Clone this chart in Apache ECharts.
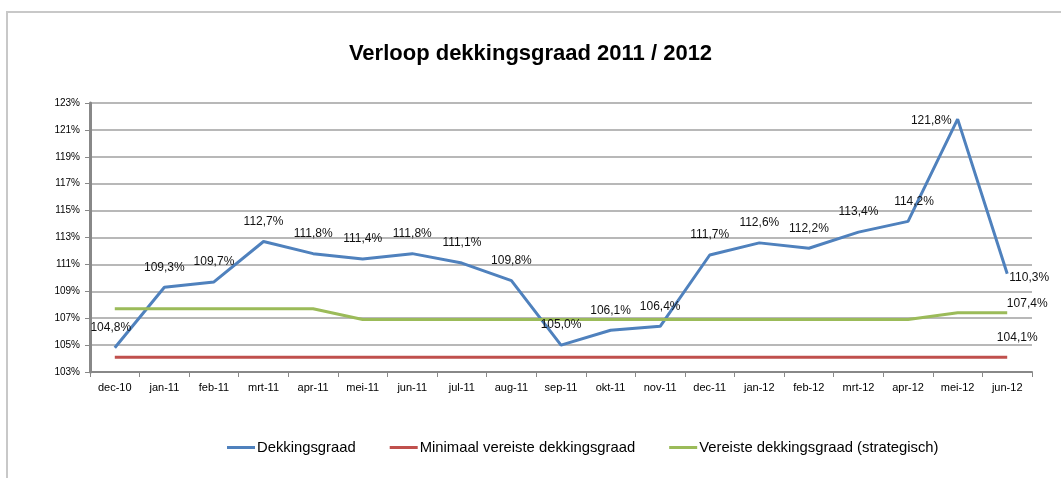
<!DOCTYPE html>
<html>
<head>
<meta charset="utf-8">
<script src="https://cdn.jsdelivr.net/npm/echarts@6/dist/echarts.min.js"></script>
<style>
  html, body { margin: 0; padding: 0; background: #fff; }
  #chart { width: 1061px; height: 478px; }
</style>
</head>
<body>
<div id="chart"></div>
<script>
const months = ['dec-10', 'jan-11', 'feb-11', 'mrt-11', 'apr-11', 'mei-11', 'jun-11', 'jul-11', 'aug-11', 'sep-11',
  'okt-11', 'nov-11', 'dec-11', 'jan-12', 'feb-12', 'mrt-12', 'apr-12', 'mei-12', 'jun-12'];
const dekkingsgraad = [104.8, 109.3, 109.7, 112.7, 111.8, 111.4, 111.8, 111.1, 109.8, 105.0,
  106.1, 106.4, 111.7, 112.6, 112.2, 113.4, 114.2, 121.8, 110.3];
const minimaal = [104.1, 104.1, 104.1, 104.1, 104.1, 104.1, 104.1, 104.1, 104.1, 104.1,
  104.1, 104.1, 104.1, 104.1, 104.1, 104.1, 104.1, 104.1, 104.1];
const strategisch = [107.7, 107.7, 107.7, 107.7, 107.7, 106.9, 106.9, 106.9, 106.9, 106.9,
  106.9, 106.9, 106.9, 106.9, 106.9, 106.9, 106.9, 107.4, 107.4];

const fmt = v => v.toFixed(1).replace('.', ',') + '%';
const font = '"Liberation Sans", Arial, sans-serif';

let myChart = echarts.init(document.getElementById('chart'));

// blue labels: mostly above, a few moved
let blueData = dekkingsgraad.map((v, i) => {
  let item = { value: v };
  if (i === 17) item.label = { position: 'left', distance: 6, offset: [0, 2] };
  if (i === 18) item.label = { position: 'right', distance: 2, offset: [0, 4] };
  if (i === 16) item.label = { offset: [6, 0] };
  if (i === 0) item.label = { offset: [-4, 0] };
  return item;
});

let lastOnly = (arr, offset) => arr.map((v, i) => i === arr.length - 1
  ? { value: v, label: { show: true, position: 'top', offset: offset, formatter: p => fmt(p.value) } }
  : v);

let option = {
  animation: false,
  textStyle: { fontFamily: font },
  title: {
    text: 'Verloop dekkingsgraad 2011 / 2012',
    left: 'center',
    top: 38,
    textStyle: { fontSize: 22, fontWeight: 'bold', color: '#000', fontFamily: font }
  },
  graphic: [{
    type: 'rect',
    shape: { x: 7, y: 12, width: 1070, height: 480 },
    style: { fill: 'none', stroke: '#c8c8c8', lineWidth: 2 }
  }],
  legend: {
    bottom: 18,
    left: 222,
    itemGap: 34,
    itemWidth: 28,
    itemHeight: 3,
    icon: 'rect',
    textStyle: { fontSize: 14.8, color: '#000', fontFamily: font, padding: [0, 0, 0, -3] }
  },
  grid: { left: 90, right: 29, top: 103, bottom: 106 },
  xAxis: {
    type: 'category',
    data: months,
    boundaryGap: true,
    axisLine: { lineStyle: { color: '#888', width: 2 } },
    axisTick: { show: true, length: 5, lineStyle: { color: '#888' } },
    axisLabel: { fontSize: 11, color: '#000', margin: 10 }
  },
  yAxis: {
    type: 'value',
    min: 103,
    max: 123,
    interval: 2,
    axisLine: { show: true, lineStyle: { color: '#888', width: 3 } },
    axisTick: { show: true, length: 5, lineStyle: { color: '#888' } },
    axisLabel: { fontSize: 10, color: '#000', margin: 10, formatter: v => v + '%' },
    splitLine: { lineStyle: { color: '#a0a0a0', width: 1.5 } }
  },
  series: [
    {
      name: 'Dekkingsgraad',
      type: 'line',
      data: blueData,
      symbol: 'circle',
      symbolSize: 0.1,
      showSymbol: true,
      color: '#4F81BD',
      lineStyle: { width: 3 },
      label: { show: true, position: 'top', distance: 14, fontSize: 12, color: '#111', formatter: p => fmt(p.value) },
      z: 3
    },
    {
      name: 'Minimaal vereiste dekkingsgraad',
      type: 'line',
      data: lastOnly(minimaal, [10, -8]),
      symbol: 'circle',
      symbolSize: 0.1,
      showSymbol: true,
      color: '#C0504D',
      lineStyle: { width: 3 },
      label: { fontSize: 12, color: '#111' }
    },
    {
      name: 'Vereiste dekkingsgraad (strategisch)',
      type: 'line',
      data: lastOnly(strategisch, [20, 2]),
      symbol: 'circle',
      symbolSize: 0.1,
      showSymbol: true,
      color: '#9BBB59',
      lineStyle: { width: 3 },
      label: { fontSize: 12, color: '#111' }
    }
  ]
};
myChart.setOption(option);
</script>
</body>
</html>
